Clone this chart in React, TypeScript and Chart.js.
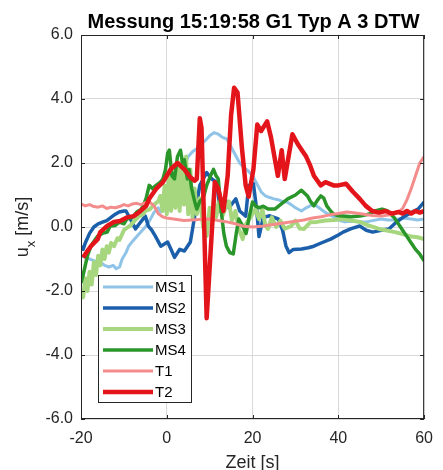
import React, { useEffect, useRef } from "react";
import { Chart, registerables } from "chart.js";

Chart.register(...registerables);

const FONT = "'Liberation Sans', Arial, Helvetica, sans-serif";

const chartTitle = "Messung 15:19:58 G1 Typ A 3 DTW";
const xAxisTitle = "Zeit [s]";
const xTickValues = [-20, 0, 20, 40, 60];
const yTickValues = [-6, -4, -2, 0, 2, 4, 6];

// MS1
const ms1Time = [-20,-19,-18,-17,-16,-15,-14.5,-13.5,-12.5,-11.8,-11,-10.4,-9.5,-8.9,-8,-7,-6,-5,-4,-3,-2,-1.4,-0.5,0.2,1,2,3,4,5,6,7,8,9,10,11,12,13,14,15,16,17,18,19,20,21,22,23,24,25,26,27,28,29,30,31.4,32.5,34.3,35.5,37,38.5,40,41.5,43,45,46.5,48,50,51.5,53,55,57,58.5,60];
const ms1Values = [-0.9,-0.95,-1.0,-1.05,-1.1,-1.15,-1.2,-1.25,-1.2,-1.3,-1.25,-1.0,-0.8,-0.6,-0.45,-0.3,-0.15,0.0,0.2,0.45,0.6,0.47,0.55,0.7,0.9,1.3,1.7,1.9,2.2,2.35,2.45,2.6,2.7,2.85,2.95,2.9,2.8,2.75,2.5,2.25,2.0,1.85,1.75,1.6,1.35,1.1,0.97,0.92,0.88,0.85,0.8,0.78,0.7,0.6,0.5,0.6,0.72,0.6,0.45,0.35,0.22,0.16,0.18,0.16,0.16,0.2,0.25,0.22,0.22,0.28,0.25,0.22,0.25];

// MS2
const ms2Time = [-20,-19.5,-19,-18,-17,-16,-15,-14,-13,-12,-11.1,-10,-9.5,-8.5,-7.3,-6.4,-5,-4.3,-3.5,-2.7,-1.4,0.2,1.0,1.8,3.0,4.1,5.5,6.4,7.7,8.5,9.3,10.5,11.6,12.5,13.5,14.5,16.1,17.0,18.4,19.1,20.2,21.0,21.5,22.5,24,26,27,27.8,28.5,29.5,31.4,33,34.3,36,38.2,40,41.1,43,45,46.5,48,50,51.8,53.5,55.5,57,58.6,60];
const ms2Values = [-0.6,-0.7,-0.5,-0.2,0.0,0.1,0.15,0.2,0.3,0.4,0.47,0.5,0.5,0.25,-0.06,0.1,0.34,0.03,-0.1,-0.28,-0.6,-0.47,-0.7,-0.95,-0.7,-0.75,-0.47,0.25,1.3,1.5,1.7,1.5,1.4,0.5,0.9,0.6,0.88,0.5,0.34,1.3,1.35,0.5,-0.3,0.3,0.35,0.25,-0.1,-0.6,-0.8,-0.7,-0.69,-0.65,-0.6,-0.5,-0.38,-0.25,-0.16,-0.05,0.03,-0.1,-0.16,-0.1,-0.06,0.15,0.34,0.45,0.56,0.78];

// MS3
const ms3Time = [-20,-19.5,-19,-18.5,-18,-17.5,-17,-16.5,-16,-15.5,-15,-14.5,-14,-13.5,-13,-12.3,-11.5,-11,-10,-9,-8.6,-7.5,-6.4,-5.5,-5,-4,-3.2,-2.5,-2,-1.5,-1,-0.5,0,0.5,1,1.5,2,2.5,3,3.5,4,4.5,5,5.5,6,6.5,7,7.7,8.5,9.3,10,10.5,11,11.5,12.3,13,13.7,14.5,15.2,16,16.8,17.7,18.5,19.5,20.7,21.5,22.3,23,23.6,24.5,25.5,26.5,27.5,29,30,31,32,33.5,35,37,39,41.1,43,45,47,49.5,51,53.2,55,57,58.5,60];
const ms3Values = [-2.0,-2.2,-1.6,-2.0,-1.4,-1.8,-1.1,-1.5,-0.9,-1.2,-0.7,-1.0,-0.6,-0.8,-0.5,-0.6,-0.35,-0.4,-0.1,0.0,0.03,0.2,0.34,0.4,0.5,0.55,0.66,0.75,0.8,0.97,0.5,1.3,0.4,1.6,0.5,1.7,0.6,1.9,0.5,2.1,0.7,2.2,0.4,1.8,0.3,1.2,0.4,0.9,0.0,-0.28,0.6,0.25,0.9,0.3,0.8,0.35,0.6,0.8,0.2,0.5,-0.06,-0.38,0.1,0.3,0.56,0.25,0.56,0.03,-0.06,0.3,0.0,0.2,-0.05,0.03,0.2,-0.05,-0.06,0.15,0.16,0.2,0.22,0.25,0.2,0.16,0.05,-0.06,-0.1,-0.16,-0.22,-0.3,-0.32,-0.38];

// MS4
const ms4Time = [-20,-19.5,-19,-18.5,-17.7,-17,-16.1,-15,-13.9,-13.2,-12,-11,-10,-9.3,-8,-7,-6,-5.5,-4.8,-4.1,-3.3,-2.5,-1.5,-0.9,-0.3,0.2,0.6,1.2,1.8,2.5,3.2,3.7,4.1,4.8,5.2,5.8,6.5,7,7.7,8.5,9.3,10.2,10.9,11.5,12,12.6,13.3,13.9,14.7,15.5,16.2,16.8,17.7,18.5,19.2,20,20.7,21.5,22.5,23.6,25.2,26.5,28.2,30,31.4,32.8,33.5,34.3,35.2,35.9,36.6,37.3,38.2,38.9,40,41.1,43,45,47,48.5,50.2,51.5,53,54.8,56,57,58,59,60];
const ms4Values = [-1.75,-1.5,-1.2,-0.9,-0.6,-0.45,-0.28,-0.2,-0.16,0.03,0.05,0.15,0.1,0.25,0.3,0.47,0.55,0.66,0.9,1.3,1.2,1.3,1.4,1.5,1.8,2.3,2.4,1.6,1.5,2.2,2.4,2.0,2.1,1.5,1.8,1.2,0.8,0.56,0.8,0.9,1.3,1.6,1.8,1.6,1.5,0.6,-0.2,-0.6,-0.8,-0.84,-0.2,0.25,0.03,-0.2,0.3,0.78,0.66,0.6,0.65,0.56,0.56,0.7,0.88,1.0,1.15,0.97,0.8,0.66,0.85,0.97,0.9,0.66,0.5,0.4,0.35,0.34,0.32,0.34,0.4,0.5,0.56,0.5,0.3,-0.06,-0.3,-0.5,-0.7,-0.85,-1.06];

// T1
const t1Time = [-20,-19,-18,-17,-16,-15,-14,-13,-12,-11,-10,-9,-8,-7,-6,-5,-4,-3.5,-3,-2.5,-2,-1,0,2,4,6,8,10,12,14,16,18,20,22,24,26,28,30,32,34,36,38,40,42,44,46,48,50,52,54,55,56,57,58,59,60];
const t1Values = [0.72,0.66,0.70,0.64,0.62,0.66,0.58,0.62,0.60,0.64,0.70,0.66,0.72,0.74,0.70,0.76,0.78,0.72,0.66,0.55,0.42,0.32,0.28,0.24,0.20,0.22,0.24,0.25,0.20,0.16,0.10,0.02,0.00,0.02,0.06,0.10,0.14,0.18,0.22,0.28,0.32,0.38,0.42,0.47,0.44,0.40,0.36,0.34,0.38,0.46,0.58,0.85,1.20,1.60,2.00,2.20];

// T2
const t2Time = [-19.5,-18.5,-17.7,-16.1,-15.5,-13.9,-12.3,-10.9,-9.3,-7.7,-6.4,-4.8,-4.1,-2.5,-0.9,0.9,2.5,4.1,5.5,6.5,7.0,7.7,8.1,9.3,10.3,11.2,12.0,13.2,14.2,15.0,15.7,16.5,17.5,18.4,19.1,20.2,21.1,22.0,23.4,24.3,25.9,26.8,27.5,29.3,30.5,31.5,32.5,33.5,34.3,35.9,37.0,38.0,38.9,40.0,41.8,43.4,45.0,46.4,47.9,49.5,51.0,52.5,54.0,55.0,56.0,57.0,58.0,59.0,60.0];
const t2Values = [-0.95,-0.75,-0.6,-0.38,-0.16,0.03,0.16,0.19,0.3,0.34,0.47,0.66,0.88,1.19,1.4,1.8,2.0,1.8,1.55,1.45,1.5,3.4,3.1,-2.85,-0.6,1.4,1.2,0.5,1.6,3.5,4.35,4.2,2.5,1.3,0.95,1.8,3.2,3.0,3.3,2.8,1.6,2.4,1.5,2.9,2.6,2.4,2.2,1.9,1.6,1.3,1.4,1.35,1.3,1.3,1.35,1.1,0.88,0.66,0.5,0.45,0.5,0.42,0.47,0.42,0.5,0.42,0.5,0.45,0.5];

const seriesNames = ["MS1", "MS2", "MS3", "MS4", "T1", "T2"];
const seriesColors = ["#8fc4e8", "#1b5fab", "#a6d77f", "#2a962a", "#f48c8c", "#e3151b"];
const seriesWidths = [3, 3.5, 4, 3.5, 3, 4.5];
const seriesTimes = [ms1Time, ms2Time, ms3Time, ms4Time, t1Time, t2Time];
const seriesValues = [ms1Values, ms2Values, ms3Values, ms4Values, t1Values, t2Values];

const decorPlugin = {
  id: "decor",
  afterDatasetsDraw(chart: any) {
    const ctx = chart.ctx;
    const { left, right, top, bottom } = chart.chartArea;
    const xs = chart.scales.x;
    const ys = chart.scales.y;
    ctx.save();
    ctx.strokeStyle = "#262626";
    ctx.lineWidth = 1;
    ctx.strokeRect(left + 0.5, top + 0.5, right - left - 1, bottom - top - 1);
    ctx.beginPath();
    for (const v of yTickValues) {
      const py = Math.round(ys.getPixelForValue(v)) + 0.5;
      ctx.moveTo(left, py);
      ctx.lineTo(left + 4, py);
      ctx.moveTo(right - 4, py);
      ctx.lineTo(right, py);
    }
    for (const v of xTickValues) {
      const px = Math.round(xs.getPixelForValue(v)) + 0.5;
      ctx.moveTo(px, bottom);
      ctx.lineTo(px, bottom - 4);
      ctx.moveTo(px, top);
      ctx.lineTo(px, top + 4);
    }
    ctx.stroke();

    // legend
    const lx0 = 98, ly0 = 275, lx1 = 192, ly1 = 403;
    ctx.fillStyle = "#ffffff";
    ctx.fillRect(lx0, ly0, lx1 - lx0, ly1 - ly0);
    ctx.strokeStyle = "#262626";
    ctx.lineWidth = 1;
    ctx.strokeRect(lx0 + 0.5, ly0 + 0.5, lx1 - lx0 - 1, ly1 - ly0 - 1);
    ctx.font = `15px ${FONT}`;
    ctx.textBaseline = "middle";
    ctx.textAlign = "left";
    seriesNames.forEach((name, i) => {
      const y = 287 + i * 21;
      ctx.strokeStyle = seriesColors[i];
      ctx.lineWidth = seriesWidths[i];
      ctx.beginPath();
      ctx.moveTo(103, y);
      ctx.lineTo(153, y);
      ctx.stroke();
      ctx.fillStyle = "#000000";
      ctx.fillText(name, 155, y + 1);
    });
    ctx.restore();
  },
  afterDraw(chart: any) {
    const ctx = chart.ctx;
    const { left, right, top, bottom } = chart.chartArea;
    const cx = (left + right) / 2;
    ctx.save();
    ctx.fillStyle = "#000000";
    ctx.textAlign = "center";
    ctx.textBaseline = "alphabetic";
    ctx.font = `bold 20px ${FONT}`;
    ctx.fillText(chartTitle, cx + 1, 28);
    ctx.fillStyle = "#262626";
    ctx.font = `18px ${FONT}`;
    ctx.fillText(xAxisTitle, cx, 468);

    // y label with subscript
    const cy = (top + bottom) / 2;
    ctx.translate(28, cy);
    ctx.rotate(-Math.PI / 2);
    ctx.textAlign = "left";
    const big = `18px ${FONT}`;
    const small = `13px ${FONT}`;
    ctx.font = big;
    const wU = ctx.measureText("u").width;
    const wRest = ctx.measureText(" [m/s]").width;
    ctx.font = small;
    const wX = ctx.measureText("x").width;
    const total = wU + wX + wRest;
    let x = -total / 2;
    ctx.font = big;
    ctx.fillText("u", x, 0);
    x += wU;
    ctx.font = small;
    ctx.fillText("x", x, 7);
    x += wX;
    ctx.font = big;
    ctx.fillText(" [m/s]", x, 0);
    ctx.restore();
  },
};

export default function App() {
  const ref = useRef<HTMLCanvasElement | null>(null);
  useEffect(() => {
    if (!ref.current) return;
    const datasets = seriesNames
      .map((name, i) => ({
        label: name,
        data: seriesTimes[i].map((t, j) => ({ x: t, y: seriesValues[i][j] })),
        borderColor: seriesColors[i],
        backgroundColor: seriesColors[i],
        borderWidth: seriesWidths[i],
        pointRadius: 0,
        tension: 0,
        fill: false,
        clip: 0,
        borderJoinStyle: "round" as const,
      }))
      .reverse();
    const chart = new Chart(ref.current, {
      type: "line",
      data: { datasets },
      options: {
        animation: false,
        responsive: false,
        layout: { padding: { left: 0, top: 35, right: 9, bottom: 0 } },
        plugins: { legend: { display: false }, tooltip: { enabled: false }, title: { display: false } },
        scales: {
          x: {
            type: "linear",
            min: -20,
            max: 60,
            afterFit: (s: any) => { s.height = 51; },
            afterBuildTicks: (s: any) => { s.ticks = xTickValues.map((v) => ({ value: v })); },
            ticks: {
              padding: 10,
              color: "#262626",
              font: { family: FONT, size: 16 },
              callback: (v: any) => String(v),
              maxRotation: 0,
            },
            grid: { color: "#d9d9d9", drawTicks: false, lineWidth: 1 },
            border: { display: false },
          },
          y: {
            type: "linear",
            min: -6,
            max: 6,
            afterFit: (s: any) => { s.width = 81; },
            afterBuildTicks: (s: any) => { s.ticks = yTickValues.map((v) => ({ value: v })); },
            ticks: {
              padding: 8,
              color: "#262626",
              font: { family: FONT, size: 16 },
              callback: (v: any) => Number(v).toFixed(1),
            },
            grid: { color: "#d9d9d9", drawTicks: false, lineWidth: 1 },
            border: { display: false },
          },
        },
      },
      plugins: [decorPlugin],
    });
    return () => chart.destroy();
  }, []);
  return (
    <div style={{ position: "absolute", left: 0, top: 0, width: 443, height: 470, background: "#fff" }}>
      <canvas ref={ref} width={443} height={470} style={{ display: "block" }} />
    </div>
  );
}
